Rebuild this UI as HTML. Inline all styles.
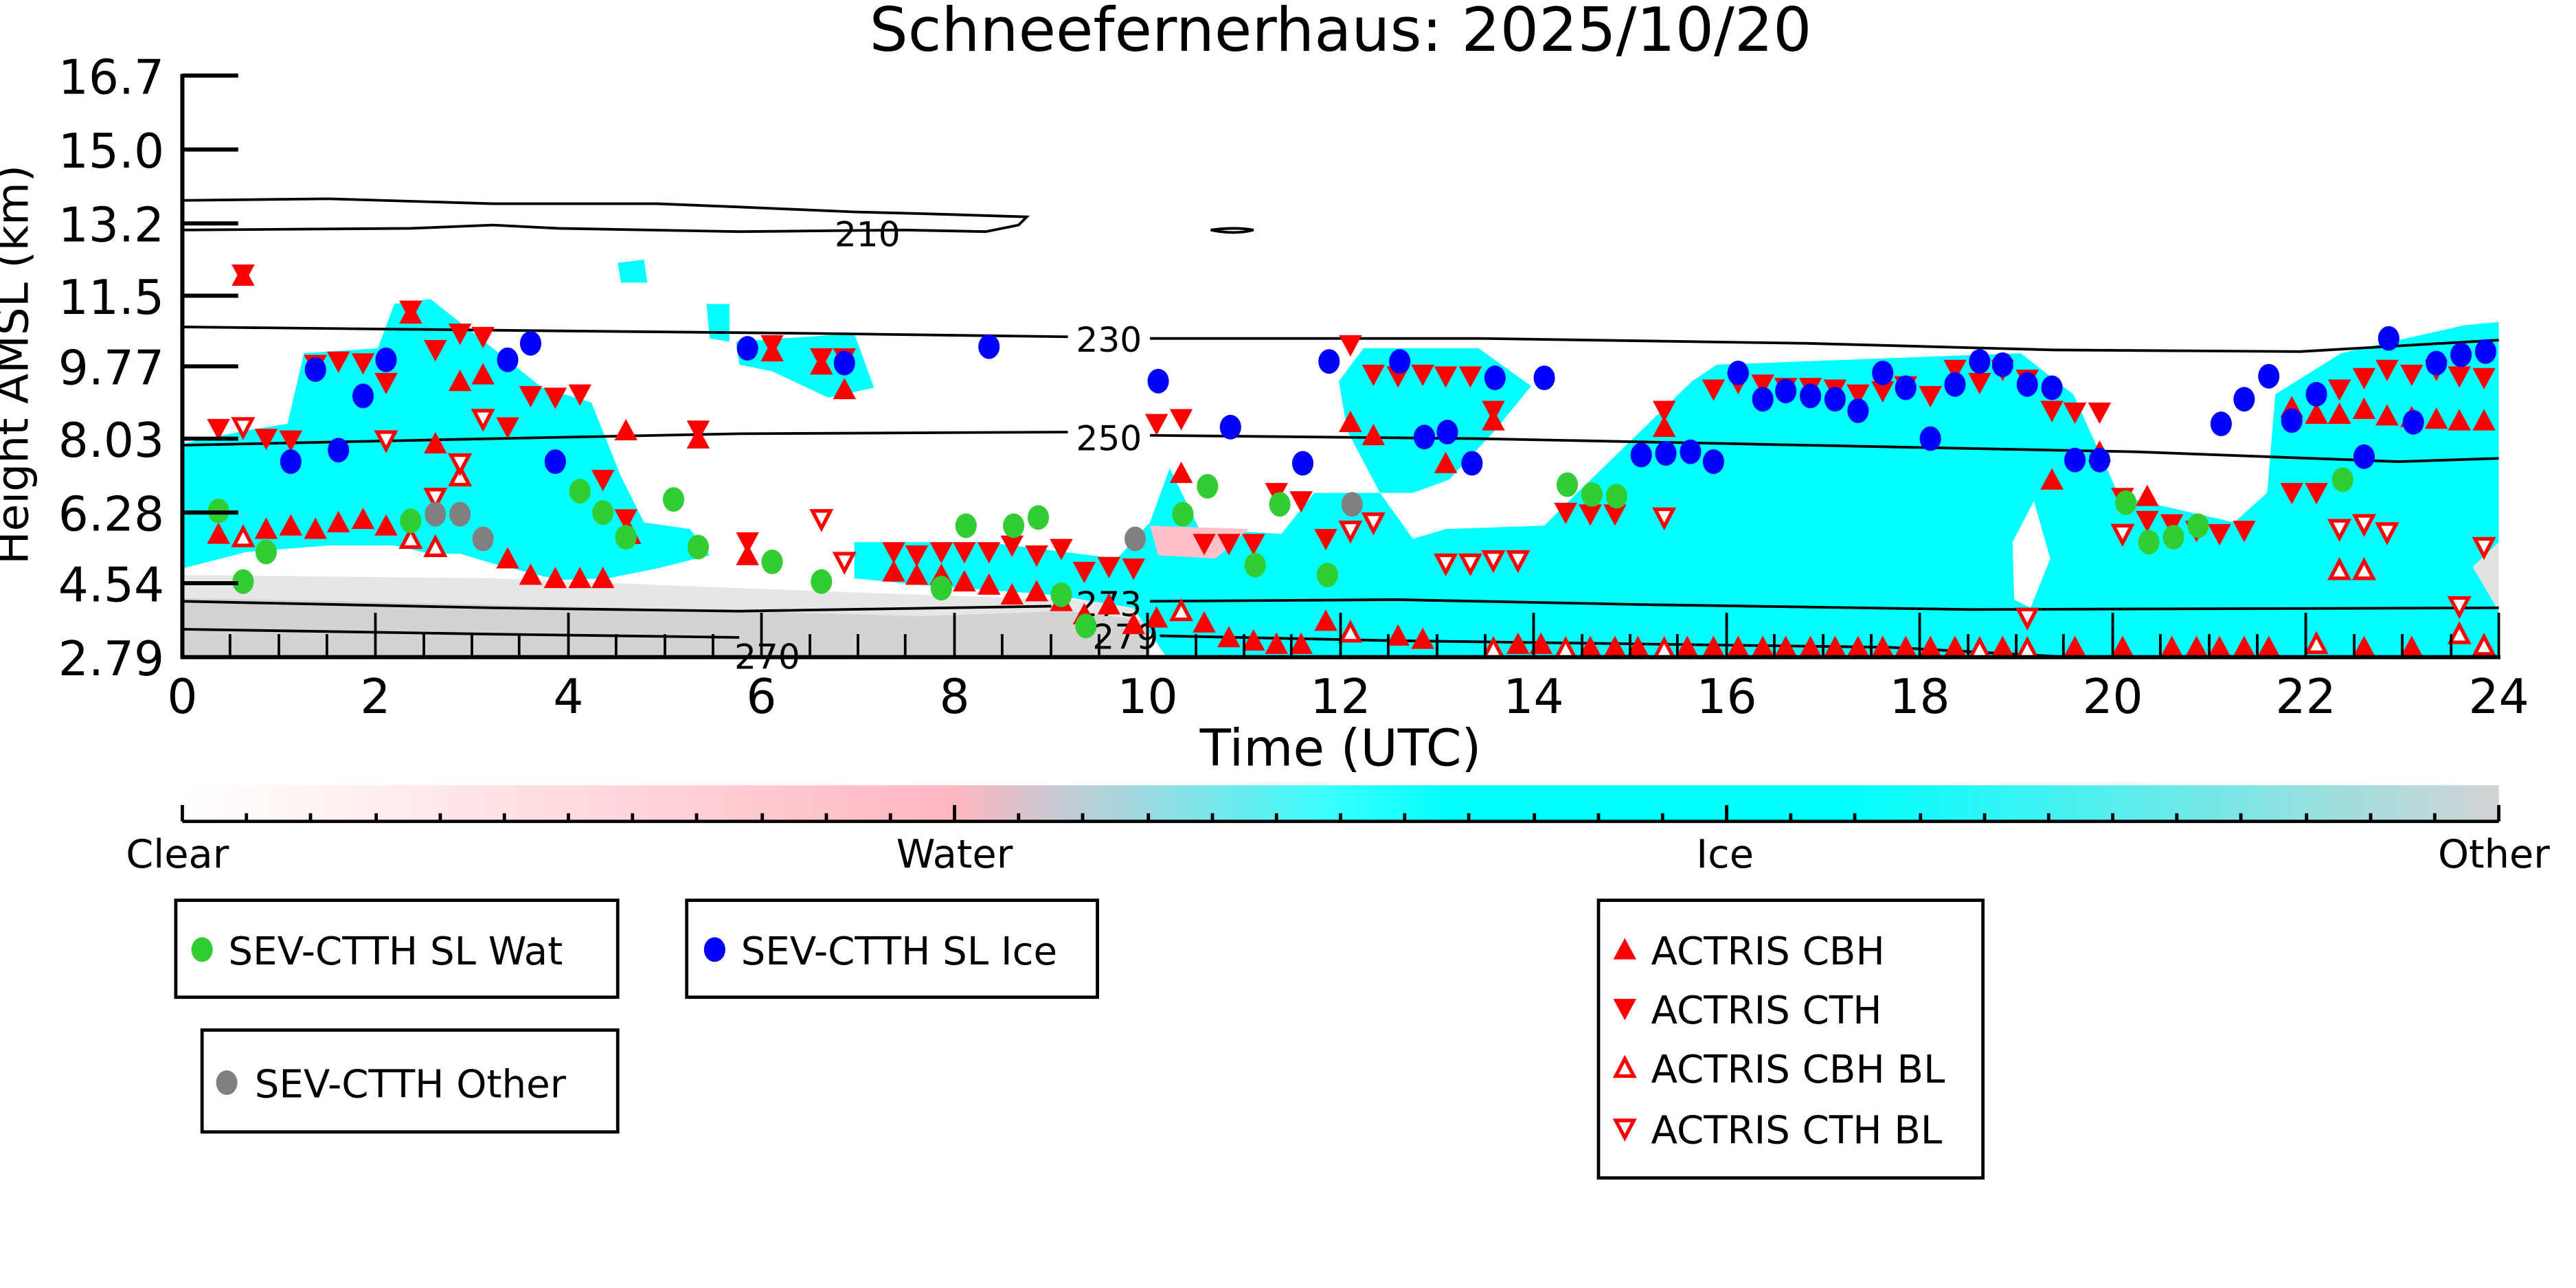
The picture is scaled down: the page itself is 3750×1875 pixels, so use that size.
<!DOCTYPE html>
<html><head><meta charset="utf-8"><style>html,body{margin:0;padding:0;background:#fff}svg{display:block}</style></head><body>
<svg width="3750" height="1875" viewBox="0 0 1568 784" xmlns="http://www.w3.org/2000/svg" font-family="'DejaVu Sans','Liberation Sans',sans-serif">
<defs>
<path id="u" d="M0,-7 L7,6 L-7,6Z" fill="#f00"/>
<path id="d" d="M0,7 L7,-6 L-7,-6Z" fill="#f00"/>
<path id="ou" d="M0,-5.5 L5.5,5 L-5.5,5Z" fill="#fff" stroke="#f00" stroke-width="2.2"/>
<path id="od" d="M0,5.5 L5.5,-5 L-5.5,-5Z" fill="#fff" stroke="#f00" stroke-width="2.2"/>
<ellipse id="g" rx="6.5" ry="7.5" fill="#32cd32"/>
<ellipse id="b" rx="6.5" ry="7.5" fill="#0000ff"/>
<ellipse id="k" rx="6.5" ry="7.5" fill="#808080"/>
<linearGradient id="cb" x1="0" x2="1" y1="0" y2="0">
<stop offset="0" stop-color="#fff"/><stop offset="0.333" stop-color="#ffb6c1"/><stop offset="0.5" stop-color="#3ff"/><stop offset="0.55" stop-color="#0ff"/><stop offset="0.72" stop-color="#0ff"/><stop offset="1" stop-color="#d3d3d3"/>
</linearGradient>
<clipPath id="pc"><rect x="111" y="46" width="1410" height="354"/></clipPath>
</defs>
<text x="816" y="31" font-size="37" text-anchor="middle">Schneefernerhaus: 2025/10/20</text>
<g clip-path="url(#pc)">
<polygon fill="#e6e6e6" points="111,350 300,352 450,358 560,362 650,365 700,368 700,400 111,400"/>
<polygon fill="#d3d3d3" points="111,364 300,368 450,372 560,375 650,372 700,378 700,400 111,400"/>
<polygon fill="#e2e2e2" points="1380,350 1440,330 1500,340 1521,330 1521,400 1380,400"/>
<polygon fill="#0ff" points="111,270 150,262 175,258 185,215 230,212 240,185 262,182 300,212 330,236 360,245 378,290 392,318 420,322 432,338 400,346 370,352 340,353 300,343 280,337 262,337 240,332 200,332 150,336 111,346"/>
<polygon fill="#0ff" points="448,208 520,203 532,236 504,242 470,226 450,222"/>
<polygon fill="#0ff" points="376,160 392,158 394,172 378,172"/>
<polygon fill="#0ff" points="430,185 444,185 444,208 432,206"/>
<polygon fill="#0ff" points="520,330 600,330 680,340 700,318 712,285 730,322 780,325 800,300 840,300 860,328 880,322 940,320 960,300 1030,232 1045,222 1230,215 1262,240 1290,302 1360,318 1380,300 1385,240 1425,215 1500,198 1521,196 1521,330 1505,345 1521,372 1521,400 710,400 690,370 640,362 560,356 520,352"/>
<polygon fill="#0ff" points="815,232 830,212 900,212 932,235 910,262 882,292 860,300 840,300 820,262"/>
<polygon fill="#fff" points="1225,330 1238,305 1248,340 1236,370 1226,365"/>
<polygon fill="#ffc0cb" points="700,320 760,322 740,340 705,338"/>
</g>
<g fill="none" stroke="#000" stroke-width="1.6">
<polyline points="111,122 200,121 300,124 400,124 450,126 520,129 560,130 625,132 620,137 600,141 550,140 450,141 340,139 300,137 250,139 111,140"/>
<path d="M737,140 Q752,138 763,140 Q752,143 737,140Z"/>
<polyline points="111,199 300,201 500,203 650,205"/><polyline points="700,206 900,206 1100,209 1250,213 1400,214 1521,207"/>
<polyline points="111,271 300,267 450,264 650,263"/><polyline points="700,265 900,267 1100,271 1300,275 1460,281 1521,279"/>
<polyline points="111,366 300,370 450,372 640,369"/><polyline points="700,366 850,365 1000,368 1200,371 1521,370"/>
<polyline points="111,383 300,386 450,388"/><polyline points="706,387 850,390 1000,392 1150,394 1260,400"/>
</g>
<g font-size="21" text-anchor="middle">
<text x="528" y="150">210</text>
<text x="675" y="214">230</text><text x="675" y="274">250</text><text x="675" y="375">273</text><text x="685" y="395">279</text><text x="467" y="407">270</text>
</g>
<g>
<use href="#d" x="133" y="261"/><use href="#d" x="148" y="167"/><use href="#d" x="162" y="267"/><use href="#d" x="177" y="268"/><use href="#d" x="192" y="222"/><use href="#d" x="206" y="220"/><use href="#d" x="221" y="221"/><use href="#d" x="235" y="233"/><use href="#d" x="250" y="189"/><use href="#d" x="265" y="213"/><use href="#d" x="280" y="203"/><use href="#d" x="294" y="205"/><use href="#d" x="309" y="260"/><use href="#d" x="323" y="241"/><use href="#d" x="338" y="242"/><use href="#d" x="353" y="240"/><use href="#d" x="367" y="292"/><use href="#d" x="381" y="316"/><use href="#d" x="425" y="262"/><use href="#d" x="455" y="330"/><use href="#d" x="470" y="210"/><use href="#d" x="500" y="218"/><use href="#d" x="514" y="218"/><use href="#d" x="544" y="336"/><use href="#d" x="558" y="338"/><use href="#d" x="573" y="336"/><use href="#d" x="587" y="336"/><use href="#d" x="602" y="336"/><use href="#d" x="616" y="332"/><use href="#d" x="631" y="338"/><use href="#d" x="646" y="334"/><use href="#d" x="660" y="348"/><use href="#d" x="675" y="345"/><use href="#d" x="690" y="346"/><use href="#d" x="704" y="258"/><use href="#d" x="719" y="255"/><use href="#d" x="733" y="331"/><use href="#d" x="748" y="331"/><use href="#d" x="763" y="331"/><use href="#d" x="777" y="300"/><use href="#d" x="792" y="305"/><use href="#d" x="807" y="328"/><use href="#d" x="822" y="210"/><use href="#d" x="836" y="228"/><use href="#d" x="851" y="229"/><use href="#d" x="866" y="228"/><use href="#d" x="880" y="229"/><use href="#d" x="895" y="229"/><use href="#d" x="909" y="250"/><use href="#d" x="953" y="312"/><use href="#d" x="968" y="313"/><use href="#d" x="983" y="313"/><use href="#d" x="1013" y="250"/><use href="#d" x="1043" y="237"/><use href="#d" x="1058" y="233"/><use href="#d" x="1073" y="234"/><use href="#d" x="1087" y="236"/><use href="#d" x="1102" y="236"/><use href="#d" x="1117" y="237"/><use href="#d" x="1131" y="240"/><use href="#d" x="1146" y="238"/><use href="#d" x="1160" y="235"/><use href="#d" x="1175" y="241"/><use href="#d" x="1190" y="225"/><use href="#d" x="1205" y="233"/><use href="#d" x="1219" y="225"/><use href="#d" x="1234" y="231"/><use href="#d" x="1249" y="250"/><use href="#d" x="1263" y="251"/><use href="#d" x="1278" y="251"/><use href="#d" x="1292" y="303"/><use href="#d" x="1307" y="317"/><use href="#d" x="1322" y="319"/><use href="#d" x="1337" y="323"/><use href="#d" x="1351" y="325"/><use href="#d" x="1366" y="323"/><use href="#d" x="1395" y="300"/><use href="#d" x="1410" y="300"/><use href="#d" x="1424" y="237"/><use href="#d" x="1439" y="230"/><use href="#d" x="1453" y="225"/><use href="#d" x="1468" y="228"/><use href="#d" x="1483" y="225"/><use href="#d" x="1497" y="229"/><use href="#d" x="1512" y="230"/>
<use href="#u" x="133" y="325"/><use href="#u" x="148" y="168"/><use href="#u" x="162" y="322"/><use href="#u" x="177" y="320"/><use href="#u" x="192" y="322"/><use href="#u" x="206" y="318"/><use href="#u" x="221" y="316"/><use href="#u" x="235" y="320"/><use href="#u" x="250" y="191"/><use href="#u" x="265" y="270"/><use href="#u" x="280" y="232"/><use href="#u" x="294" y="228"/><use href="#u" x="309" y="340"/><use href="#u" x="323" y="350"/><use href="#u" x="338" y="352"/><use href="#u" x="353" y="352"/><use href="#u" x="367" y="352"/><use href="#u" x="381" y="262"/><use href="#u" x="425" y="267"/><use href="#u" x="455" y="338"/><use href="#u" x="470" y="214"/><use href="#u" x="500" y="222"/><use href="#u" x="514" y="237"/><use href="#u" x="544" y="348"/><use href="#u" x="558" y="350"/><use href="#u" x="573" y="350"/><use href="#u" x="587" y="354"/><use href="#u" x="602" y="356"/><use href="#u" x="616" y="362"/><use href="#u" x="631" y="360"/><use href="#u" x="646" y="366"/><use href="#u" x="660" y="374"/><use href="#u" x="675" y="368"/><use href="#u" x="690" y="380"/><use href="#u" x="704" y="376"/><use href="#u" x="719" y="288"/><use href="#u" x="733" y="379"/><use href="#u" x="748" y="388"/><use href="#u" x="763" y="390"/><use href="#u" x="777" y="392"/><use href="#u" x="792" y="392"/><use href="#u" x="807" y="378"/><use href="#u" x="822" y="257"/><use href="#u" x="836" y="265"/><use href="#u" x="851" y="387"/><use href="#u" x="866" y="389"/><use href="#u" x="880" y="282"/><use href="#u" x="909" y="256"/><use href="#u" x="924" y="392"/><use href="#u" x="938" y="392"/><use href="#u" x="968" y="394"/><use href="#u" x="983" y="394"/><use href="#u" x="997" y="394"/><use href="#u" x="1013" y="260"/><use href="#u" x="1027" y="394"/><use href="#u" x="1043" y="394"/><use href="#u" x="1058" y="394"/><use href="#u" x="1073" y="394"/><use href="#u" x="1087" y="394"/><use href="#u" x="1102" y="394"/><use href="#u" x="1117" y="394"/><use href="#u" x="1131" y="394"/><use href="#u" x="1146" y="394"/><use href="#u" x="1160" y="394"/><use href="#u" x="1175" y="394"/><use href="#u" x="1190" y="394"/><use href="#u" x="1219" y="394"/><use href="#u" x="1249" y="292"/><use href="#u" x="1263" y="394"/><use href="#u" x="1278" y="275"/><use href="#u" x="1292" y="394"/><use href="#u" x="1307" y="302"/><use href="#u" x="1322" y="394"/><use href="#u" x="1337" y="394"/><use href="#u" x="1351" y="394"/><use href="#u" x="1366" y="394"/><use href="#u" x="1381" y="394"/><use href="#u" x="1395" y="248"/><use href="#u" x="1410" y="252"/><use href="#u" x="1424" y="252"/><use href="#u" x="1439" y="249"/><use href="#u" x="1453" y="253"/><use href="#u" x="1468" y="254"/><use href="#u" x="1483" y="255"/><use href="#u" x="1497" y="256"/><use href="#u" x="1512" y="256"/><use href="#u" x="1439" y="394"/><use href="#u" x="1468" y="394"/>
<use href="#ou" x="148" y="327"/><use href="#ou" x="250" y="328"/><use href="#ou" x="265" y="333"/><use href="#ou" x="280" y="290"/><use href="#ou" x="383" y="325"/><use href="#ou" x="719" y="372"/><use href="#ou" x="822" y="385"/><use href="#ou" x="909" y="395"/><use href="#ou" x="953" y="395"/><use href="#ou" x="1013" y="395"/><use href="#ou" x="1205" y="395"/><use href="#ou" x="1234" y="395"/><use href="#ou" x="1424" y="347"/><use href="#ou" x="1439" y="347"/><use href="#ou" x="1497" y="386"/><use href="#ou" x="1512" y="393"/><use href="#ou" x="1410" y="392"/>
<use href="#od" x="148" y="260"/><use href="#od" x="235" y="268"/><use href="#od" x="265" y="303"/><use href="#od" x="280" y="282"/><use href="#od" x="294" y="255"/><use href="#od" x="500" y="316"/><use href="#od" x="514" y="342"/><use href="#od" x="822" y="323"/><use href="#od" x="836" y="318"/><use href="#od" x="880" y="343"/><use href="#od" x="895" y="343"/><use href="#od" x="909" y="341"/><use href="#od" x="924" y="341"/><use href="#od" x="1013" y="315"/><use href="#od" x="1234" y="376"/><use href="#od" x="1292" y="325"/><use href="#od" x="1424" y="322"/><use href="#od" x="1439" y="319"/><use href="#od" x="1453" y="324"/><use href="#od" x="1497" y="369"/><use href="#od" x="1512" y="333"/>
<use href="#g" x="133" y="311"/><use href="#g" x="148" y="354"/><use href="#g" x="162" y="336"/><use href="#g" x="250" y="317"/><use href="#g" x="353" y="299"/><use href="#g" x="367" y="312"/><use href="#g" x="381" y="327"/><use href="#g" x="410" y="304"/><use href="#g" x="425" y="333"/><use href="#g" x="470" y="342"/><use href="#g" x="500" y="354"/><use href="#g" x="573" y="358"/><use href="#g" x="588" y="320"/><use href="#g" x="617" y="320"/><use href="#g" x="632" y="315"/><use href="#g" x="646" y="362"/><use href="#g" x="661" y="381"/><use href="#g" x="720" y="313"/><use href="#g" x="735" y="296"/><use href="#g" x="764" y="344"/><use href="#g" x="779" y="307"/><use href="#g" x="808" y="350"/><use href="#g" x="954" y="295"/><use href="#g" x="969" y="301"/><use href="#g" x="984" y="302"/><use href="#g" x="1294" y="306"/><use href="#g" x="1308" y="330"/><use href="#g" x="1323" y="327"/><use href="#g" x="1338" y="320"/><use href="#g" x="1426" y="292"/>
<use href="#k" x="265" y="313"/><use href="#k" x="280" y="313"/><use href="#k" x="294" y="328"/><use href="#k" x="691" y="328"/><use href="#k" x="823" y="307"/>
<use href="#b" x="177" y="281"/><use href="#b" x="192" y="225"/><use href="#b" x="206" y="274"/><use href="#b" x="221" y="241"/><use href="#b" x="235" y="219"/><use href="#b" x="309" y="219"/><use href="#b" x="323" y="209"/><use href="#b" x="338" y="281"/><use href="#b" x="455" y="212"/><use href="#b" x="514" y="221"/><use href="#b" x="602" y="211"/><use href="#b" x="705" y="232"/><use href="#b" x="749" y="260"/><use href="#b" x="793" y="282"/><use href="#b" x="809" y="220"/><use href="#b" x="852" y="220"/><use href="#b" x="867" y="266"/><use href="#b" x="881" y="263"/><use href="#b" x="896" y="282"/><use href="#b" x="910" y="230"/><use href="#b" x="940" y="230"/><use href="#b" x="999" y="277"/><use href="#b" x="1014" y="276"/><use href="#b" x="1029" y="275"/><use href="#b" x="1043" y="281"/><use href="#b" x="1058" y="227"/><use href="#b" x="1073" y="243"/><use href="#b" x="1087" y="238"/><use href="#b" x="1102" y="241"/><use href="#b" x="1117" y="243"/><use href="#b" x="1131" y="250"/><use href="#b" x="1146" y="227"/><use href="#b" x="1160" y="236"/><use href="#b" x="1175" y="267"/><use href="#b" x="1190" y="234"/><use href="#b" x="1205" y="220"/><use href="#b" x="1219" y="222"/><use href="#b" x="1234" y="234"/><use href="#b" x="1249" y="236"/><use href="#b" x="1263" y="280"/><use href="#b" x="1278" y="280"/><use href="#b" x="1352" y="258"/><use href="#b" x="1366" y="243"/><use href="#b" x="1381" y="229"/><use href="#b" x="1395" y="256"/><use href="#b" x="1410" y="240"/><use href="#b" x="1439" y="278"/><use href="#b" x="1454" y="206"/><use href="#b" x="1469" y="257"/><use href="#b" x="1483" y="221"/><use href="#b" x="1498" y="216"/><use href="#b" x="1513" y="214"/>
</g>
<g stroke="#000" stroke-width="2.5" fill="none">
<line x1="111" y1="45" x2="111" y2="401"/><line x1="110" y1="400" x2="1522" y2="400"/>
<path d="M111,46h34M111,91h34M111,136h34M111,180h34M111,223h34M111,267h34M111,312h34M111,355h34"/>
</g>
<g stroke="#000" stroke-width="1.6">
<path d="M111,400v-27M228.5,400v-27M346,400v-27M463.5,400v-27M581,400v-27M698.5,400v-27M816,400v-27M933.5,400v-27M1051,400v-27M1168.5,400v-27M1286,400v-27M1403.5,400v-27M1521,400v-27"/>
<path d="M169.75,400v-14M287.25,400v-14M404.75,400v-14M522.25,400v-14M639.75,400v-14M757.25,400v-14M874.75,400v-14M992.25,400v-14M1109.75,400v-14M1227.25,400v-14M1344.75,400v-14M1462.25,400v-14M140,400v-14M199,400v-14M258,400v-14M316,400v-14M375,400v-14M434,400v-14M493,400v-14M551,400v-14M610,400v-14M669,400v-14M728,400v-14M786,400v-14M845,400v-14M904,400v-14M963,400v-14M1021,400v-14M1080,400v-14M1139,400v-14M1198,400v-14M1256,400v-14M1315,400v-14M1374,400v-14M1433,400v-14M1492,400v-14"/>
</g>
<g font-size="29" text-anchor="end">
<text x="100" y="57">16.7</text><text x="100" y="102">15.0</text><text x="100" y="147">13.2</text><text x="100" y="191">11.5</text><text x="100" y="234">9.77</text><text x="100" y="278">8.03</text><text x="100" y="323">6.28</text><text x="100" y="366">4.54</text><text x="100" y="411">2.79</text>
</g>
<g font-size="29" text-anchor="middle">
<text x="111" y="434">0</text><text x="228.5" y="434">2</text><text x="346" y="434">4</text><text x="463.5" y="434">6</text><text x="581" y="434">8</text><text x="698.5" y="434">10</text><text x="816" y="434">12</text><text x="933.5" y="434">14</text><text x="1051" y="434">16</text><text x="1168.5" y="434">18</text><text x="1286" y="434">20</text><text x="1403.5" y="434">22</text><text x="1521" y="434">24</text>
<text x="816" y="466" font-size="31">Time (UTC)</text>
<text transform="translate(17,222) rotate(-90)" font-size="27">Height AMSL (km)</text>
</g>
<rect x="111" y="478" width="1410" height="22" fill="url(#cb)"/>
<g stroke="#000" stroke-width="2">
<line x1="111" y1="500" x2="1521" y2="500"/>
<path d="M111,500v-10M581,500v-10M1051,500v-10M1521,500v-10"/>
<path d="M150,500v-5M189,500v-5M229,500v-5M268,500v-5M307,500v-5M346,500v-5M385,500v-5M424,500v-5M464,500v-5M503,500v-5M542,500v-5M620,500v-5M659,500v-5M699,500v-5M738,500v-5M777,500v-5M816,500v-5M855,500v-5M894,500v-5M934,500v-5M973,500v-5M1012,500v-5M1090,500v-5M1129,500v-5M1169,500v-5M1208,500v-5M1247,500v-5M1286,500v-5M1325,500v-5M1364,500v-5M1404,500v-5M1443,500v-5M1482,500v-5"/>
</g>
<g font-size="24" text-anchor="middle">
<text x="108" y="528">Clear</text><text x="581" y="528">Water</text><text x="1050" y="528">Ice</text><text x="1518" y="528">Other</text>
</g>
<g fill="none" stroke="#000" stroke-width="2">
<rect x="107" y="548" width="269" height="59"/><rect x="418" y="548" width="250" height="59"/><rect x="123" y="627" width="253" height="62"/><rect x="973" y="548" width="234" height="169"/>
</g>
<g font-size="23.5">
<use href="#g" x="123" y="578"/><text x="139" y="587">SEV-CTTH SL Wat</text>
<use href="#b" x="435" y="578"/><text x="451" y="587">SEV-CTTH SL Ice</text>
<use href="#k" x="138" y="659"/><text x="155" y="668">SEV-CTTH Other</text>
<use href="#u" x="989" y="578"/><text x="1005" y="587">ACTRIS CBH</text>
<use href="#d" x="989" y="614"/><text x="1005" y="623">ACTRIS CTH</text>
<use href="#ou" x="989" y="650"/><text x="1005" y="659">ACTRIS CBH BL</text>
<use href="#od" x="989" y="687"/><text x="1005" y="696">ACTRIS CTH BL</text>
</g>
</svg>
</body></html>
